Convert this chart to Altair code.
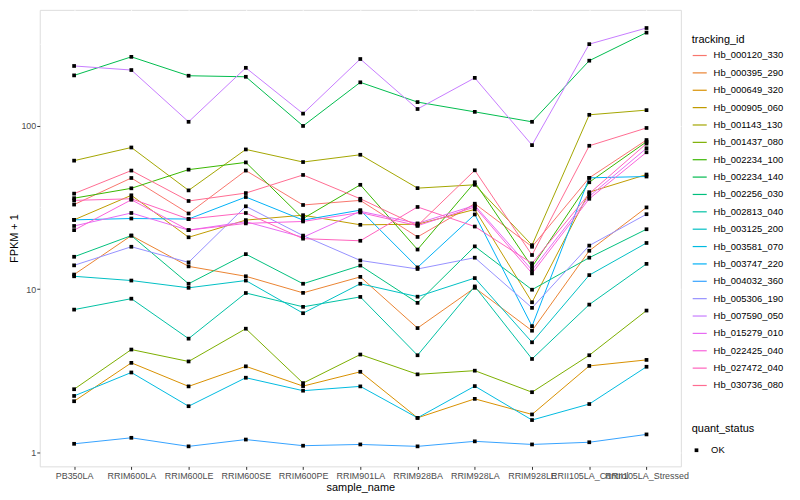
import altair as alt
import pandas as pd

samples = ["PB350LA", "RRIM600LA", "RRIM600LE", "RRIM600SE", "RRIM600PE", "RRIM901LA",
           "RRIM928BA", "RRIM928LA", "RRIM928LE", "RRII105LA_Control", "RRII105LA_Stressed"]

ids = ["Hb_000120_330", "Hb_000395_290", "Hb_000649_320", "Hb_000905_060", "Hb_001143_130",
       "Hb_001437_080", "Hb_002234_100", "Hb_002234_140", "Hb_002256_030", "Hb_002813_040",
       "Hb_003125_200", "Hb_003581_070", "Hb_003747_220", "Hb_004032_360", "Hb_005306_190",
       "Hb_007590_050", "Hb_015279_010", "Hb_022425_040", "Hb_027472_040", "Hb_030736_080"]

colors = ["#F8766D", "#EA8331", "#D89000", "#C09B00", "#A3A500", "#7CAE00", "#39B600", "#00BB4E",
          "#00BF7D", "#00C1A3", "#00BFC4", "#00BAE0", "#00B0F6", "#35A2FF", "#9590FF", "#C77CFF",
          "#E76BF3", "#FA62DB", "#FF62BC", "#FF6C91"]

hb_000120_330 = [33.0, 48.0, 29.1, 53.3, 32.8, 35.0, 20.9, 33.4, 18.2, 48.1, 82.0]
hb_000395_290 = [12.3, 21.3, 13.8, 12.0, 9.5, 11.9, 5.78, 10.2, 5.57, 17.2, 31.7]
hb_000649_320 = [2.06, 3.54, 2.54, 3.37, 2.55, 3.12, 1.63, 2.13, 1.71, 3.39, 3.69]
hb_000905_060 = [26.6, 37.6, 20.8, 26.5, 28.4, 24.8, 25.0, 30.8, 8.32, 39.3, 50.4]
hb_001143_130 = [61.3, 73.8, 40.3, 71.8, 60.1, 66.6, 41.6, 43.6, 18.6, 117.0, 125.0]
hb_001437_080 = [2.44, 4.27, 3.61, 5.73, 2.66, 3.98, 3.01, 3.17, 2.34, 3.94, 7.4]
hb_002234_100 = [36.1, 41.5, 54.0, 59.8, 27.1, 43.6, 17.5, 45.2, 13.7, 45.2, 80.0]
hb_002234_140 = [204.0, 265.0, 203.0, 200.0, 100.0, 185.0, 140.0, 122.0, 106.0, 251.0, 373.0]
hb_002256_030 = [15.8, 21.3, 10.8, 16.4, 10.8, 13.96, 8.25, 18.3, 9.93, 15.6, 23.3]
hb_002813_040 = [7.5, 8.75, 4.98, 9.48, 7.8, 8.97, 3.94, 10.4, 3.74, 8.05, 14.3]
hb_003125_200 = [12.0, 11.3, 10.2, 11.3, 7.13, 10.8, 9.0, 11.7, 4.73, 12.2, 19.2]
hb_003581_070 = [2.22, 3.09, 1.92, 2.87, 2.39, 2.54, 1.63, 2.55, 1.58, 1.98, 3.35]
hb_003747_220 = [26.6, 27.1, 26.9, 36.7, 26.5, 30.5, 13.6, 28.7, 5.94, 48.1, 49.0]
hb_004032_360 = [1.13, 1.23, 1.09, 1.2, 1.1, 1.12, 1.09, 1.17, 1.12, 1.155, 1.29]
hb_005306_190 = [14.0, 18.2, 14.6, 32.2, 21.3, 15.0, 13.3, 15.6, 7.69, 18.5, 28.8]
hb_007590_050 = [233.0, 220.0, 106.0, 227.0, 119.0, 257.0, 127.0, 197.0, 76.3, 317.0, 398.0]
hb_015279_010 = [24.4, 29.3, 23.0, 25.9, 20.8, 30.0, 25.3, 32.6, 13.1, 37.0, 73.0]
hb_022425_040 = [23.0, 35.3, 23.0, 25.3, 26.0, 29.5, 24.5, 31.9, 12.5, 35.8, 69.0]
hb_027472_040 = [35.0, 35.8, 26.9, 29.3, 20.4, 19.8, 31.9, 24.2, 14.4, 38.5, 78.0]
hb_030736_080 = [38.5, 53.3, 34.7, 38.8, 50.1, 35.8, 24.5, 53.5, 16.2, 75.6, 97.2]

series = [hb_000120_330, hb_000395_290, hb_000649_320, hb_000905_060, hb_001143_130,
          hb_001437_080, hb_002234_100, hb_002234_140, hb_002256_030, hb_002813_040,
          hb_003125_200, hb_003581_070, hb_003747_220, hb_004032_360, hb_005306_190,
          hb_007590_050, hb_015279_010, hb_022425_040, hb_027472_040, hb_030736_080]

minor_breaks = [10 ** 0.5, 10 ** 1.5, 10 ** 2.5]

rows = []
for tid, vals in zip(ids, series):
    for s, v in zip(samples, vals):
        rows.append({"tracking_id": tid, "sample_name": s, "fpkm": v, "quant_status": "OK"})
df = pd.DataFrame(rows)
minor_df = pd.DataFrame({"m": minor_breaks})

font = "Liberation Sans"
yscale = alt.Scale(type="log", domain=[0.822, 514], nice=False)
xscale = alt.Scale(type="point", padding=0.6)

x_enc = alt.X("sample_name:N", sort=samples, scale=xscale,
              axis=alt.Axis(title="sample_name", labelAngle=0, labelOverlap=False,
                            labelBound=False, grid=True, gridColor="white", gridWidth=1.1,
                            domain=False, tickColor="#333333", tickSize=3,
                            labelColor="#4D4D4D", labelFontSize=9, labelFont=font,
                            titleFont=font, titleFontSize=11, titleFontWeight="normal",
                            titleColor="black", labelPadding=2, titlePadding=1))
y_enc = alt.Y("fpkm:Q", scale=yscale,
              axis=alt.Axis(title="FPKM + 1", values=[1, 10, 100], grid=True,
                            gridColor="white", gridWidth=1.1, domain=False,
                            tickColor="#333333", tickSize=3, labelColor="#4D4D4D",
                            labelFontSize=9, labelFont=font, titleFont=font,
                            titleFontSize=11, titleFontWeight="normal", titleColor="black",
                            labelPadding=1, titlePadding=1))

minor = alt.Chart(minor_df).mark_rule(color="white", strokeWidth=0.5).encode(
    y=alt.Y("m:Q", scale=yscale)
)

lines = alt.Chart(df).mark_line(strokeWidth=1).encode(
    x=x_enc,
    y=y_enc,
    color=alt.Color("tracking_id:N", scale=alt.Scale(domain=ids, range=colors),
                    legend=alt.Legend(title="tracking_id", orient="none", legendX=657,
                                      legendY=24, symbolType="stroke", symbolSize=200,
                                      symbolStrokeWidth=1.2, rowPadding=4.5, labelOffset=6,
                                      labelFontSize=9.5, labelFont=font, titleFont=font,
                                      titleFontSize=11, titleFontWeight="normal",
                                      titlePadding=3)),
    detail="tracking_id:N",
)

points = alt.Chart(df).mark_point(filled=True, color="black", size=14, opacity=1).encode(
    x=alt.X("sample_name:N", sort=samples, scale=xscale),
    y=alt.Y("fpkm:Q", scale=yscale),
    shape=alt.Shape("quant_status:N", scale=alt.Scale(domain=["OK"], range=["square"]),
                    legend=alt.Legend(title="quant_status", orient="none", legendX=657,
                                      legendY=416, symbolSize=14, symbolFillColor="black",
                                      symbolStrokeColor="black", labelFontSize=9.5,
                                      labelOffset=10, labelFont=font, titleFont=font,
                                      titleFontSize=11, titleFontWeight="normal",
                                      titlePadding=12)),
)

chart = alt.layer(minor, lines, points).resolve_legend(color="independent", shape="independent").properties(
    width=646, height=460,
    padding={"left": 32, "top": 0, "right": 112, "bottom": 32},
    autosize=alt.AutoSizeParams(type="none"),
).configure_view(fill="#EBEBEB", stroke=None).configure(background="white")

chart.save("out.html", embed_options={"renderer": "svg", "actions": False})
